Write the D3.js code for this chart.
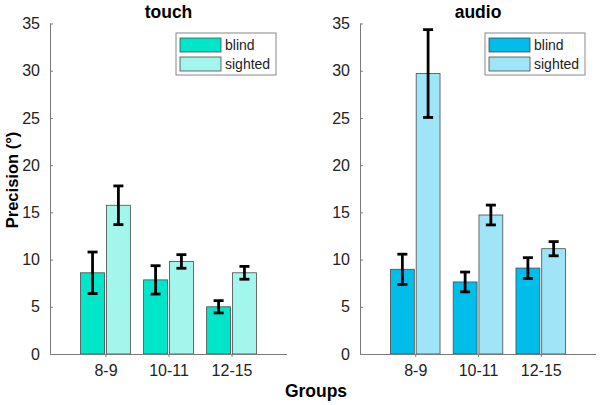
<!DOCTYPE html>
<html><head><meta charset="utf-8">
<script src="https://cdn.jsdelivr.net/npm/d3@7"></script>
<style>body{margin:0;background:#fff}svg{display:block;font-family:"Liberation Sans",Arial,sans-serif}</style>
</head><body><div id="chart"></div>
<script>
const groups = ["8-9", "10-11", "12-15"];
const seriesNames = ["blind", "sighted"];
const yTicks = [0, 5, 10, 15, 20, 25, 30, 35];
const touchBlind = [8.6, 7.85, 5.0];
const touchBlindErr = [2.2, 1.5, 0.65];
const touchSighted = [15.75, 9.8, 8.6];
const touchSightedErr = [2.05, 0.72, 0.68];
const audioBlind = [8.97, 7.63, 9.1];
const audioBlindErr = [1.6, 1.05, 1.1];
const audioSighted = [29.7, 14.72, 11.15];
const audioSightedErr = [4.65, 1.05, 0.75];
const touchColors = ["#00e6c9", "#a2f6ec"];
const audioColors = ["#00bdea", "#a0e4f7"];

const W = 600, H = 405;
const svg = d3.select("#chart").append("svg").attr("width", W).attr("height", H);

const y = d3.scaleLinear().domain([0, 35]).range([354, 23.5]);

function panel(x0, x1, title, blind, blindErr, sighted, sightedErr, colors) {
  const x = d3.scaleLinear().domain([0.12, 3.88]).range([x0, x1]);
  const g = svg.append("g");
  const barW = x(0.38) - x(0);
  const off = [-0.205, 0.205];
  const data = [];
  groups.forEach((grp, i) => {
    data.push({s: 0, i, v: blind[i], e: blindErr[i]});
    data.push({s: 1, i, v: sighted[i], e: sightedErr[i]});
  });
  g.selectAll("rect.bar").data(data).join("rect").attr("class", "bar")
    .attr("x", d => x(d.i + 1 + off[d.s]) - barW / 2)
    .attr("width", barW)
    .attr("y", d => y(d.v))
    .attr("height", d => y(0) - y(d.v))
    .attr("fill", d => colors[d.s])
    .attr("stroke", "#4a4a4a").attr("stroke-width", 0.8);
  const eg = g.selectAll("g.err").data(data).join("g").attr("class", "err")
    .attr("stroke", "#000").attr("stroke-width", 2.8);
  eg.append("line")
    .attr("x1", d => x(d.i + 1 + off[d.s])).attr("x2", d => x(d.i + 1 + off[d.s]))
    .attr("y1", d => y(d.v - d.e)).attr("y2", d => y(d.v + d.e));
  [-1, 1].forEach(sg => {
    eg.append("line")
      .attr("x1", d => x(d.i + 1 + off[d.s]) - 5).attr("x2", d => x(d.i + 1 + off[d.s]) + 5)
      .attr("y1", d => y(d.v + sg * d.e)).attr("y2", d => y(d.v + sg * d.e));
  });
  const ya = g.append("g").attr("transform", `translate(${x0},0)`)
    .call(d3.axisLeft(y).tickValues(yTicks).tickSize(-3).tickPadding(10));
  const xa = g.append("g").attr("transform", `translate(0,${y(0)})`)
    .call(d3.axisBottom(x).tickValues([1, 2, 3]).tickFormat((d, i) => groups[i]).tickSize(3).tickPadding(8));
  [ya, xa].forEach(a => {
    a.select(".domain").attr("stroke", "#7a7a7a").attr("stroke-width", 1);
    a.selectAll(".tick line").attr("stroke", "#7a7a7a");
    a.selectAll(".tick text").attr("font-size", 16).attr("fill", "#222")
      .attr("font-family", "'Liberation Sans',Arial,sans-serif");
  });
  ya.select(".domain").attr("d", `M0.5,${y(35)}V${y(0)}`);
  xa.select(".domain").attr("d", `M${x0},0.5H${x1}`);
  g.append("text").attr("x", (x0 + x1) / 2).attr("y", 18).attr("text-anchor", "middle")
    .attr("font-size", 17.5).attr("font-weight", "bold").text(title);
  const lx = x1 - 111, ly = 33;
  g.append("rect").attr("x", lx).attr("y", ly).attr("width", 100).attr("height", 42)
    .attr("fill", "#fff").attr("stroke", "#888").attr("stroke-width", 1);
  seriesNames.forEach((nm, k) => {
    g.append("rect").attr("x", lx + 4).attr("y", ly + 5 + k * 19).attr("width", 41).attr("height", 14)
      .attr("fill", colors[k]).attr("stroke", "#4a4a4a").attr("stroke-width", 0.8);
    g.append("text").attr("x", lx + 49).attr("y", ly + 17 + k * 19).attr("font-size", 14)
      .attr("fill", "#222").text(nm);
  });
}

panel(50, 287, "touch", touchBlind, touchBlindErr, touchSighted, touchSightedErr, touchColors);
panel(360, 596, "audio", audioBlind, audioBlindErr, audioSighted, audioSightedErr, audioColors);

svg.append("text").attr("x", 316).attr("y", 397).attr("text-anchor", "middle")
  .attr("font-size", 17.5).attr("font-weight", "bold").text("Groups");
svg.append("text").attr("transform", "translate(18,180) rotate(-90)").attr("text-anchor", "middle")
  .attr("font-size", 16.5).attr("font-weight", "bold").text("Precision (°)");
</script></body></html>
